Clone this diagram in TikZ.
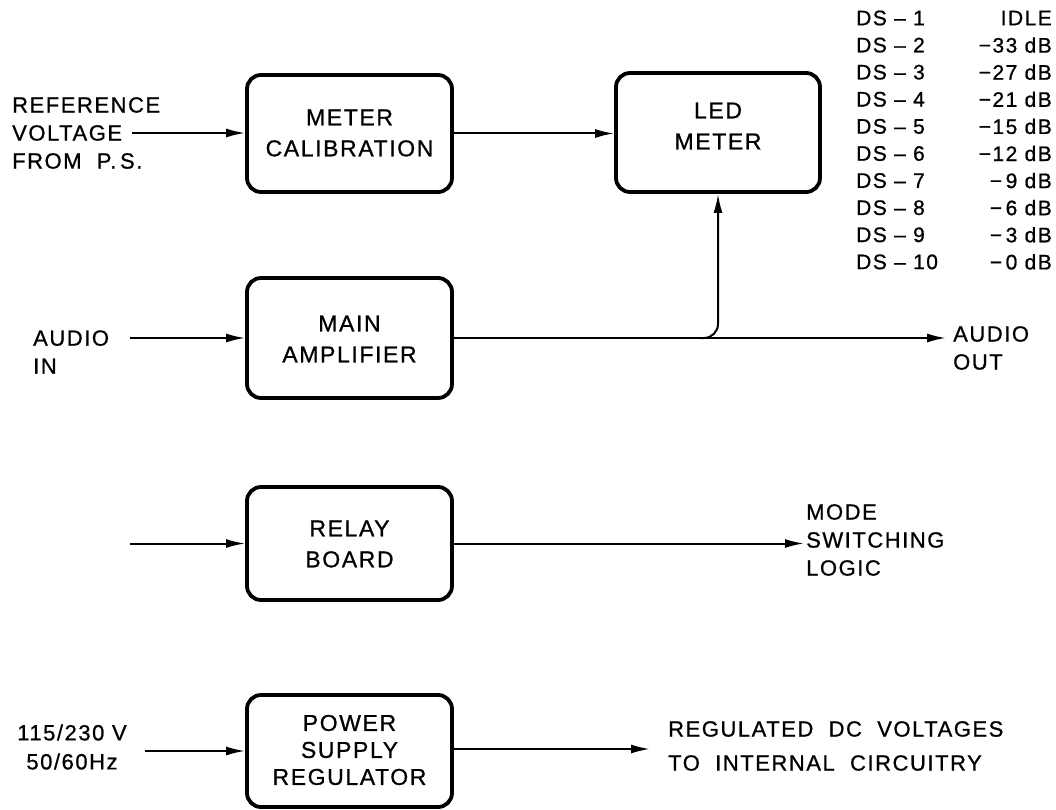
\documentclass[tikz,border=0pt]{standalone}
\usepackage{fontspec}
\setmainfont{Liberation Sans}[LetterSpace=7,FakeBold=0.8]
\usetikzlibrary{arrows.meta}
\begin{document}
\begin{tikzpicture}[x=1pt,y=-1pt,
  blk/.style={draw, line width=3.8pt, rounded corners=14pt, inner sep=0pt, minimum width=205pt},
  lbl/.style={font=\fontsize{23}{31}\selectfont, inner sep=0pt, align=center},
  lbll/.style={font=\fontsize{22}{28}\selectfont, inner sep=0pt, align=left, anchor=west},
  tbl/.style={font=\fontsize{21}{25}\selectfont, inner sep=0pt},
  wire/.style={line width=2pt, -{Latex[length=19pt,width=9pt]}},
]
\useasboundingbox (0,0) rectangle (1056,810);

% blocks
\node[blk, minimum height=117pt] (mc) at (349.5,133.5) {};
\node[lbl] (mct) at (349.5,133) {METER\\CALIBRATION};
\node[blk, minimum width=204pt, minimum height=119pt] (led) at (718,132.5) {};
\node[lbl] (ledt) at (718,126) {LED\\METER};
\node[blk, minimum height=120pt] (ma) at (349.5,338) {};
\node[lbl] (mat) at (349.5,339) {MAIN\\AMPLIFIER};
\node[blk, minimum height=113pt] (rb) at (349.5,543.5) {};
\node[lbl] (rbt) at (349.5,544) {RELAY\\BOARD};
\node[blk, minimum height=112pt] (ps) at (349.5,751) {};
\node[lbl, font=\fontsize{23}{27}\selectfont] (pst) at (349.5,750) {POWER\\SUPPLY\\REGULATOR};

% outside texts
\node[lbll] (ref) at (12,133) {REFERENCE\\VOLTAGE\\FROM\ \ P.\,S.};
\node[lbll] (ain) at (33,352) {AUDIO\\IN};
\node[lbl, font=\fontsize{22}{29}\selectfont] (mains) at (72,747) {115/230 V\\50/60Hz};
\node[lbll] (aout) at (953,348) {AUDIO\\OUT};
\node[lbll] (mode) at (806,540) {MODE\\SWITCHING\\LOGIC};
\node[lbll, font=\fontsize{22}{34}\selectfont] (reg) at (668,746) {REGULATED\ \ DC\ \ VOLTAGES\\TO\ \ INTERNAL\ \ CIRCUITRY};

% connector ends
\coordinate (refS) at (132,133);
\coordinate (ainS) at (130,338);
\coordinate (rbS) at (130,543.5);
\coordinate (psS) at (145,751);
\coordinate (aoutE) at (946,338);
\coordinate (modeE) at (804,543.5);
\coordinate (regE) at (650,749);
\coordinate (br) at (700,338);

% connectors
\draw[wire] (refS) -- (refS -| mc.west);
\draw[wire] (mc.east) -- (mc.east -| led.west);
\draw[wire] (ainS) -- (ma.west);
\draw[wire] (ma.east) -- (aoutE);
\draw[wire, rounded corners=14pt] (br) -- (br -| led.south) -- (led.south);
\draw[wire] (rbS) -- (rb.west);
\draw[wire] (rb.east) -- (modeE);
\draw[wire] (psS) -- (ps.west);
\draw[wire] (ps.east |- regE) -- (regE);

% lamp table
\foreach \i/\v [count=\k from 0] in {1/IDLE, 2/{−33 dB}, 3/{−27 dB}, 4/{−21 dB}, 5/{−15 dB}, 6/{−12 dB}, 7/{−\,9 dB}, 8/{−\,6 dB}, 9/{−\,3 dB}, 10/{−\,0 dB}} {
  \node[tbl, anchor=west] (ds\i) at (856,18+27.1*\k) {DS – \i};
  \node[tbl, anchor=east] (dv\i) at (1052,18+27.1*\k) {\v};
}
\end{tikzpicture}
\end{document}
